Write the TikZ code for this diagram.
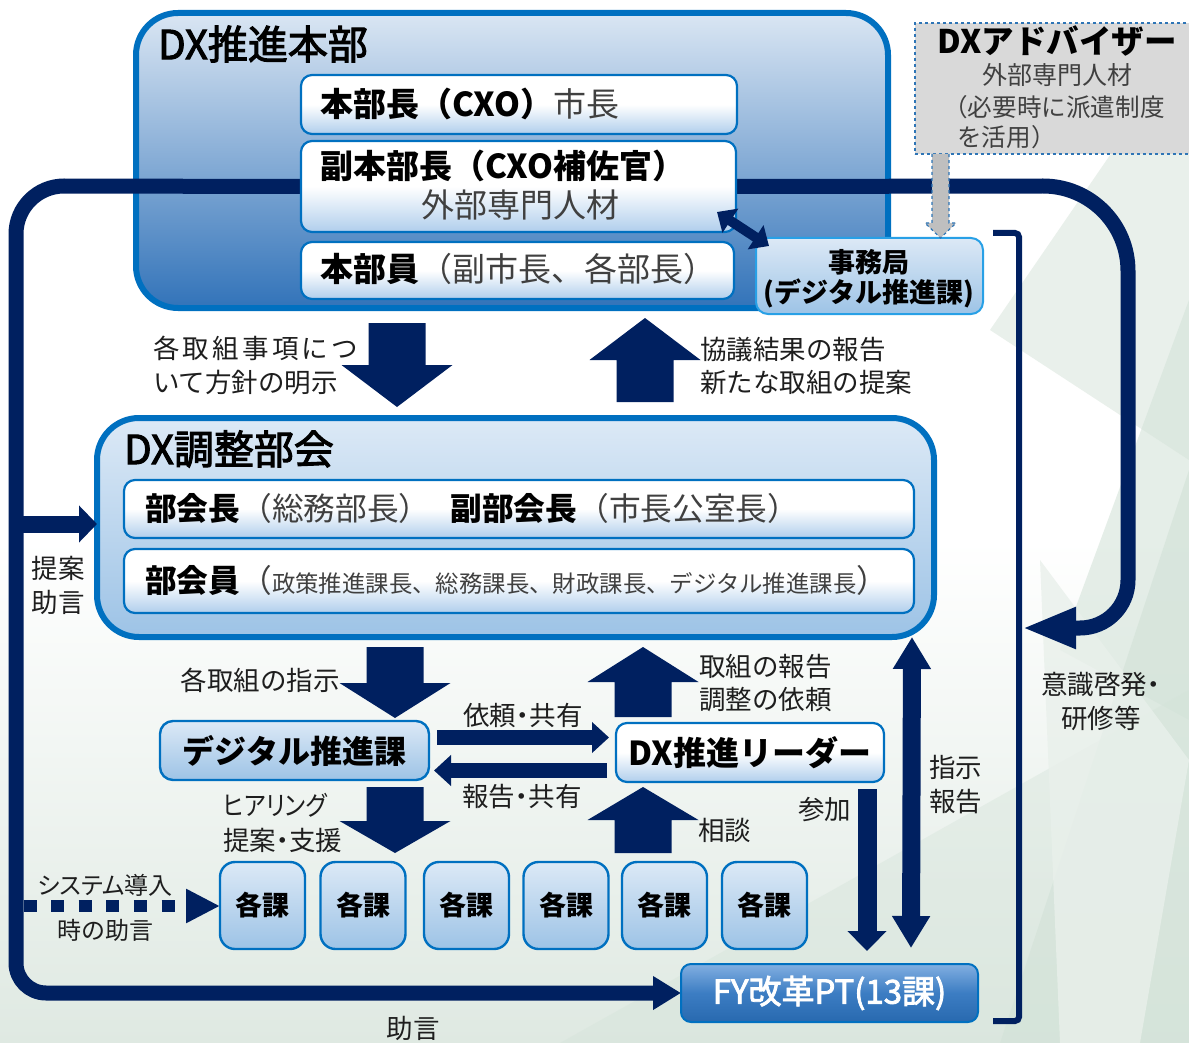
\documentclass[tikz,border=0pt]{standalone}
\usepackage{fontspec}
\setmainfont{Noto Sans CJK JP}
\newfontfamily\pj[RawFeature=+palt]{Noto Sans CJK JP}
\newfontfamily\medf[FakeBold=2.5]{Noto Sans CJK JP}
\usetikzlibrary{arrows.meta,calc}
\definecolor{navy}{RGB}{0,32,96}
\definecolor{bblue}{RGB}{0,112,192}
\definecolor{lt}{RGB}{220,233,246}
\definecolor{lb}{RGB}{157,195,230}
\definecolor{hqt}{RGB}{218,230,243}
\definecolor{hqb}{RGB}{50,115,185}
\definecolor{wb}{RGB}{176,206,236}
\definecolor{txt}{RGB}{30,30,30}
\definecolor{rtxt}{RGB}{64,64,64}
\definecolor{advg}{RGB}{217,217,217}
\definecolor{advb}{RGB}{46,117,182}
\definecolor{jimub}{RGB}{40,160,230}
\definecolor{fyt}{RGB}{130,175,225}
\definecolor{fym}{RGB}{60,125,195}
\definecolor{fyb}{RGB}{40,105,175}
\definecolor{bgg}{RGB}{223,233,226}
\definecolor{pga}{RGB}{212,227,217}
\definecolor{pgb}{RGB}{233,240,235}
\newcommand\fsz[1]{\fontsize{#1}{#1}\selectfont}
\newcommand\blk[4]{\fill[navy] ({#1-28.5},#2) -- ({#1+28.5},#2) -- ({#1+28.5},#3) -- ({#1+55.5},#3) -- (#1,#4) -- ({#1-55.5},#3) -- ({#1-28.5},#3) -- cycle;}
\pgfdeclarelayer{back}
\pgfdeclarelayer{mid}
\pgfsetlayers{back,mid,main}
\begin{document}
\begin{tikzpicture}[x=1pt,y=-1pt,
  outerbox/.style={draw=bblue, line width=6, rounded corners=42, inner sep=0, outer sep=0},
  ibox/.style={draw=bblue, line width=2.2, rounded corners=11, top color=white, bottom color=wb, middle color=white, inner sep=0, outer sep=0},
  lbox/.style={draw=bblue, line width=2.4, rounded corners=13, top color=lt, bottom color=lb, inner sep=0, outer sep=0},
  lab/.style={inner sep=0, text=txt, font=\fsz{26.5}},
  btxt/.style={inner sep=0, text=black, font=\fsz{33}\bfseries},
  loopline/.style={draw=navy, line width=15},
  kaka/.style={lbox, rounded corners=15, minimum width=85, minimum height=87}
]
\path[use as bounding box] (0,0) rectangle (1189,1043);
\begin{pgfonlayer}{back}
\fill[white] (0,0) rectangle (1189,1043);
\shade[top color=white, bottom color=bgg] (0,540) rectangle (1189,1043);
\fill[pgb] (990,330) -- (1189,40) -- (1189,460) -- cycle;
\fill[pga, opacity=0.6] (1060,650) -- (1189,300) -- (1189,720) -- cycle;
\fill[pga, opacity=0.7] (1000,1043) -- (1189,470) -- (1189,1043) -- cycle;
\fill[pga, opacity=0.4] (560,1043) -- (1189,690) -- (1189,1043) -- cycle;
\fill[pgb, opacity=0.8] (1040,560) -- (1189,760) -- (1140,1043) -- (1060,1043) -- cycle;
% outer boxes
\node[outerbox, top color=hqt, bottom color=hqb, minimum width=752, minimum height=295] (hq) at (512,160.5) {};
\node[outerbox, top color=lt, bottom color=lb, minimum width=837, minimum height=219] (chosei) at (515.5,527.5) {};
\end{pgfonlayer}

% inner boxes of DX推進本部
\node[ibox, minimum width=436, minimum height=59] (cho) at (519,104.5) {};
\node[ibox, minimum width=435, minimum height=91] (fuku) at (518.5,186.5) {};
\node[ibox, minimum width=433, minimum height=57] (inn) at (517.5,270.5) {};
\node[draw=jimub, line width=2, rounded corners=12, top color=lt, bottom color=lb, inner sep=0, outer sep=0, minimum width=227, minimum height=76] (jimu) at (869.5,276) {};
\node[draw=advb, dashed, line width=1.3, fill=advg, inner sep=0, outer sep=0, minimum width=280, minimum height=131] (adv) at (1055,88.5) {};
% DX調整部会 inner boxes
\node[ibox, minimum width=790, minimum height=58] (bucho) at (519,509) {};
\node[ibox, minimum width=790, minimum height=64] (buin) at (519,581) {};
% lower boxes
\node[lbox, minimum width=269, minimum height=59] (dig) at (294.5,750.5) {};
\node[ibox, minimum width=268, minimum height=59] (leader) at (750,752.5) {};
\node[kaka] (k1) at (262.5,905.5) {};
\node[kaka] (k2) at (363,905.5) {};
\node[kaka] (k3) at (466.5,905.5) {};
\node[kaka] (k4) at (566,905.5) {};
\node[kaka] (k5) at (664.5,905.5) {};
\node[kaka] (k6) at (764.5,905.5) {};
\node[draw=bblue, line width=2, rounded corners=10, top color=fyt, bottom color=fyb, middle color=fym, inner sep=0, outer sep=0, minimum width=297, minimum height=58] (fy) at (829.5,993) {};

% loops (behind inner boxes)
\begin{pgfonlayer}{mid}
\draw[loopline, -{Triangle[length=28pt,width=32pt]}] (fuku.west) -- (64,186) .. controls (37.5,186) and (16,207.5) .. (16,234) -- (16,963) .. controls (16,979.5) and (29.5,993) .. (46,993) -- (fy.west);
\coordinate (bk) at (1022,628);
\draw[loopline, -{Triangle[length=54pt,width=38pt]}] (fuku.east) -- (1043,186) .. controls (1090,186) and (1128,224) .. (1128,271) -- (1128,580) .. controls (1128,606.5) and (1106.5,628) .. (1080,628) -- (bk);
\end{pgfonlayer}

% bracket
\coordinate (brT) at (993,233);
\coordinate (brB) at (993,1021);
\draw[navy, line width=6, rounded corners=4] (brT) -- (1019,233) -- (1019,1021) -- (brB);

% left arrow into DX調整部会
\coordinate (L1) at (16,524);
\draw[navy, line width=17, -{Triangle[length=18pt,width=36pt]}] (L1) -- (L1 -| chosei.west);
% dotted arrow to 各課
\coordinate (L2) at (23.5,906);
\draw[navy, line width=12, dash pattern=on 13pt off 14.6pt, -{Triangle[length=34pt,width=32pt]}] (L2) -- (L2 -| k1.west);

% advisor dashed arrow
\draw[dashed, draw=advb, fill=gray!50, line width=1.2] (932,154) -- (932,223) -- (925,223) -- (940.5,238) -- (956,223) -- (949,223) -- (949,154);

% double arrow fuku <-> jimu
\draw[navy, line width=10, {Triangle[length=16pt,width=28pt]}-{Triangle[length=16pt,width=28pt]}] ($(fuku.south east)+(-19,-20)$) -- ($(jimu.north west)+(13,8)$);

% block arrows
\blk{397}{323}{365}{407}
\blk{645}{402}{360}{318}
\blk{395}{647}{683}{718}
\blk{643}{717}{682}{647}
\blk{395}{787}{821}{853}
\blk{643}{853}{820}{787}

% request/report arrows
\coordinate (r1) at ($(dig.east)+(8,-13)$);
\draw[navy, line width=15, -{Triangle[length=17pt,width=30pt]}] (r1) -- ($(r1 -| leader.west)+(-7,0)$);
\coordinate (r2) at ($(leader.west)+(-9,18)$);
\draw[navy, line width=15, -{Triangle[length=17pt,width=30pt]}] (r2) -- ($(r2 -| dig.east)+(5,0)$);
% 参加
\draw[navy, line width=19, -{Triangle[length=20pt,width=38pt]}] ($(leader.south east)+(-17,7)$) -- ($(fy.north east)+(-111,-13)$);
% 指示・報告
\draw[navy, line width=18, {Triangle[length=32pt,width=36pt]}-{Triangle[length=32pt,width=36pt]}] ($(chosei.south east)+(-22,0)$) -- ($(fy.north east)+(-67,-16)$);

% texts
\node[inner sep=0, anchor=west, font=\fsz{40}\medf, text=black] (thq) at (158,44) {DX推進本部};
\node[inner sep=0, anchor=west, font=\fsz{33}] (tcho) at (320,104) {{\bfseries 本部長（CXO）}{\color{rtxt}市長}};
\node[btxt, anchor=west] (tfuku1) at (320,166) {副本部長（CXO補佐官）};
\node[inner sep=0, anchor=west, font=\fsz{33}, text=rtxt] (tfuku2) at (421,205) {外部専門人材};
\node[inner sep=0, anchor=west, font=\fsz{33}] (tinn) at (320,269) {{\bfseries 本部員}{\color{rtxt}（副市長、各部長）}};
\node[inner sep=0, font=\fsz{27}\bfseries] (tjimu1) at (869,262) {事務局};
\node[inner sep=0, font=\fsz{27}\bfseries] (tjimu2) at (869,293) {(デジタル推進課)};
\node[inner sep=0, font=\fsz{32.5}\bfseries] (tadv1) at (1057,41) {DXアドバイザー};
\node[inner sep=0, font=\fsz{25}, text=rtxt] (tadv2) at (1057,75) {外部専門人材};
\node[inner sep=0, anchor=west, font=\fsz{24.6}, text=rtxt] (tadv3) at (943,107) {（必要時に派遣制度};
\node[inner sep=0, anchor=west, font=\fsz{24.6}, text=rtxt] (tadv4) at (957,137) {を活用）};
\node[lab, anchor=west] (tl1a) at (153,348) {\makebox[205pt][l]{各\hfill 取\hfill 組\hfill 事\hfill 項\hfill に\hfill つ}};
\node[lab, anchor=west] (tl1b) at (153,382) {いて方針の明示};
\node[lab, anchor=west] (tl2a) at (700,350) {協議結果の報告};
\node[lab, anchor=west] (tl2b) at (700,382) {新たな取組の提案};
\node[inner sep=0, anchor=west, font=\fsz{40}\medf, text=black] (tch) at (124,449) {DX調整部会};
\node[inner sep=0, anchor=west, font=\fsz{31.7}] (tbucho) at (145,508) {{\bfseries 部会長}{\color{rtxt}（総務部長）}\hspace{20pt}{\bfseries 副部会長}{\color{rtxt}（市長公室長）}};
\node[inner sep=0, anchor=west, font=\fsz{31.7}] (tbuin) at (145,580) {{\bfseries 部会員}{\color{rtxt}（{\fsz{23.4}政策推進課長、総務課長、財政課長、デジタル推進課長}）}};
\node[lab, anchor=east] (tl3) at (340,680) {各取組の指示};
\node[lab, anchor=west] (tl4a) at (699,667) {取組の報告};
\node[lab, anchor=west] (tl4b) at (699,700) {調整の依頼};
\node[btxt, font=\fsz{32}\bfseries] (tdig) at (dig) {デジタル推進課};
\node[btxt, font=\fsz{33}\bfseries] (tleader) at (leader) {DX推進リーダー};
\node[lab, font=\fsz{26.5}\pj] (tl5) at (523,715) {依頼・共有};
\node[lab, font=\fsz{26.5}\pj] (tl6) at (522,797) {報告・共有};
\node[lab, anchor=west, font=\fsz{26.5}\pj] (tl7a) at (223,805) {\scalebox{0.88}[1]{ヒアリング}};
\node[lab, anchor=west, font=\fsz{26.5}\pj] (tl7b) at (223,840) {提案・支援};
\node[lab, anchor=west] (tl8) at (698,830) {相談};
\node[lab, anchor=west] (tl9) at (798,810) {参加};
\node[lab, anchor=west] (tl10a) at (929,767) {指示};
\node[lab, anchor=west] (tl10b) at (929,802) {報告};
\foreach \k in {k1,k2,k3,k4,k5,k6}{\node[inner sep=0, font=\fsz{27}\bfseries] (t\k) at (\k) {各課};}
\node[lab, font=\fsz{24}\pj] (tl11a) at (105,885) {システム導入};
\node[lab, font=\fsz{24}] (tl11b) at (105,930) {時の助言};
\node[lab] (tl12) at (413,1028) {助言};
\node[lab] (tl13a) at (58,568) {提案};
\node[lab] (tl13b) at (58,602) {助言};
\node[lab, font=\fsz{26.5}\pj] (tl14a) at (1101,684) {意識啓発・};
\node[lab] (tl14b) at (1101,718) {研修等};
\node[inner sep=0, font=\fsz{33}\medf, text=white] (tfy) at (fy) {FY改革PT(13課)};
\end{tikzpicture}
\end{document}
